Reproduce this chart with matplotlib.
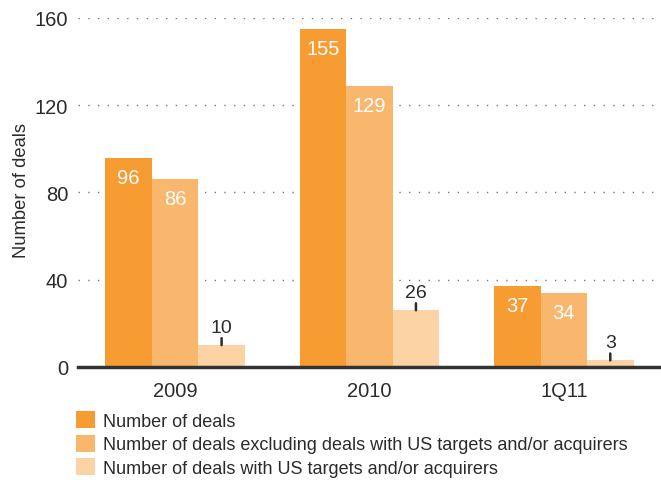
import numpy as np
import matplotlib
matplotlib.use("Agg")
from matplotlib import pyplot as plt
from matplotlib.patches import Patch

plt.rcParams['font.family'] = ['Liberation Sans', 'DejaVu Sans']

# 数据
categories = ["2009", "2010", "1Q11"]
all_deals = [96, 155, 37]
excl_us = [86, 129, 34]
with_us = [10, 26, 3]
series_names = ["Number of deals",
                "Number of deals excluding deals with US targets and/or acquirers",
                "Number of deals with US targets and/or acquirers"]
colors = ["#F79C33", "#F9B66D", "#FCD3A4"]
text_c = "#2b2b2b"

fig = plt.figure(figsize=(6.61, 4.81), dpi=100)
ax = fig.add_axes([0.118, 0.235, 0.882, 0.7255])

x = np.arange(len(categories))
w = 0.239
series = [all_deals, excl_us, with_us]
for i, vals in enumerate(series):
    ax.bar(x + (i - 1) * w, vals, width=w, color=colors[i], zorder=3, linewidth=0)

# 柱内白色标签
for i in range(2):
    for xi, v in zip(x, series[i]):
        ax.annotate(str(v), (xi + (i - 1) * w, v), xytext=(0, -14), textcoords="offset points",
                    ha="center", va="center", color="white", fontsize=14.5, zorder=5)
# 浅色柱上方标签 + 小竖线
for xi, v in zip(x, with_us):
    ax.annotate("", (xi + w, v), xytext=(0, 5), textcoords="offset points",
                arrowprops=dict(arrowstyle="-", color=text_c, lw=1.8, shrinkA=0, shrinkB=0))
    ax.annotate(str(v), (xi + w, v), xytext=(0, 13), textcoords="offset points",
                ha="center", va="center", color=text_c, fontsize=14)

ax.set_xlim(-0.5, 2.5)
ax.set_ylim(0, 160)
ax.set_yticks([0, 40, 80, 120, 160])
ax.set_xticks(x)
ax.set_xticklabels(categories)
ax.tick_params(axis="both", length=0, labelsize=14.5, labelcolor=text_c)
ax.tick_params(axis="y", pad=7)
ax.tick_params(axis="x", pad=10)
for yv in [40, 80, 120, 160]:
    ax.axhline(yv, color="#777777", lw=1, ls=(0, (1, 6)), zorder=1)
for s in ["top", "right", "left"]:
    ax.spines[s].set_visible(False)
ax.spines["bottom"].set_color("#333333")
ax.spines["bottom"].set_linewidth(2.5)
ax.spines["bottom"].set_zorder(4)

fig.text(0.032, 0.603, "Number of deals", rotation=90, ha="center", va="center",
         fontsize=13.2, color=text_c)

handles = [Patch(facecolor=c, edgecolor="none") for c in colors]
fig.legend(handles, series_names, loc="upper left", bbox_to_anchor=(0.115, 0.143),
           frameon=False, fontsize=13, labelcolor=text_c, handlelength=1.05,
           handleheight=1.05, handletextpad=0.45, labelspacing=0.28, borderaxespad=0,
           borderpad=0)

fig.savefig("out.png", dpi=100)
